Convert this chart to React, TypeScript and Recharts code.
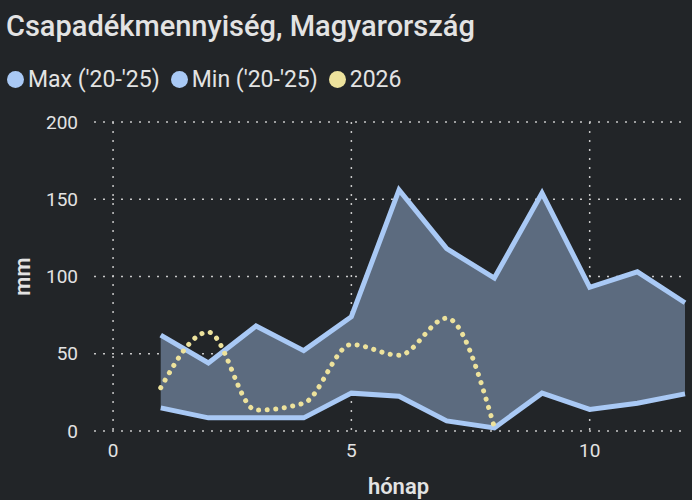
import { Area, CartesianGrid, ComposedChart, Line, XAxis, YAxis } from 'recharts';

const months = [1, 2, 3, 4, 5, 6, 7, 8, 9, 10, 11, 12];
const maxValues = [62, 44, 68, 52, 74, 156, 118, 99, 154, 93, 103, 83];
const minValues = [15, 8.5, 8.5, 8.5, 24.5, 22.5, 6.5, 2, 24.5, 14, 18, 24];
const values2026 = [28, 64, 13.5, 18, 56, 49, 73, 2.5];
const xTicks = [0, 5, 10];
const yTicks = [0, 50, 100, 150, 200];

const BG = '#222528';
const TEXT = '#e3e3e3';
const BLUE = '#a9c9f5';
const YELLOW = '#ede29c';
const FONT = 'Roboto, "Noto Sans", sans-serif';

const data = months.map((m, i) => ({
  month: m,
  max: maxValues[i],
  min: minValues[i],
  range: [minValues[i], maxValues[i]],
  y2026: i < values2026.length ? values2026[i] : null,
}));

const legend = [
  { label: "Max ('20-'25)", color: BLUE },
  { label: "Min ('20-'25)", color: BLUE },
  { label: '2026', color: YELLOW },
];

export default function App() {
  return (
    <div style={{ position: 'relative', width: 692, height: 500, background: BG, fontFamily: FONT }}>
      <style>{`body{margin:0;background:${BG}}`}</style>
      <div
        style={{
          position: 'absolute',
          left: 6,
          top: 9,
          fontSize: 29,
          fontWeight: 500,
          color: TEXT,
          whiteSpace: 'nowrap',
        }}
      >
        Csapadékmennyiség, Magyarország
      </div>
      <div style={{ position: 'absolute', left: 7, top: 66, display: 'flex', gap: 11 }}>
        {legend.map((l) => (
          <div key={l.label} style={{ display: 'flex', alignItems: 'center', color: TEXT, fontSize: 23 }}>
            <span
              style={{
                display: 'inline-block',
                width: 17,
                height: 17,
                borderRadius: '50%',
                background: l.color,
                marginRight: 4,
              }}
            />
            {l.label}
          </div>
        ))}
      </div>
      <ComposedChart
        width={692}
        height={500}
        data={data}
        margin={{ top: 122, right: 7, left: 0, bottom: 0 }}
        style={{ position: 'absolute', left: 0, top: 0 }}
      >
        <CartesianGrid stroke="#c8c8c8" strokeDasharray="2 7" strokeWidth={1.5} verticalValues={xTicks} />
        <XAxis
          type="number"
          dataKey="month"
          domain={[-0.4, 12]}
          ticks={xTicks}
          axisLine={false}
          tickLine={false}
          tickSize={0}
          tickMargin={13}
          height={69}
          tick={{ fill: TEXT, fontSize: 19, fontFamily: FONT }}
          label={{
            value: 'hónap',
            position: 'center',
            dx: 9,
            dy: 21,
            fill: TEXT,
            fontSize: 22,
            fontWeight: 600,
            fontFamily: FONT,
          }}
        />
        <YAxis
          type="number"
          domain={[0, 200]}
          ticks={yTicks}
          axisLine={false}
          tickLine={false}
          tickSize={0}
          tickMargin={16}
          width={94}
          tick={{ fill: TEXT, fontSize: 19, fontFamily: FONT }}
          label={{
            value: 'mm',
            angle: -90,
            position: 'center',
            dx: -25,
            fill: TEXT,
            fontSize: 22,
            fontWeight: 600,
            fontFamily: FONT,
          }}
        />
        <Area
          dataKey="range"
          fill="#5c6b7f"
          fillOpacity={1}
          stroke="none"
          isAnimationActive={false}
          activeDot={false}
        />
        <Line dataKey="max" stroke={BLUE} strokeWidth={5} dot={false} isAnimationActive={false} />
        <Line dataKey="min" stroke={BLUE} strokeWidth={5} dot={false} isAnimationActive={false} />
        <Line
          dataKey="y2026"
          type="monotone"
          stroke={YELLOW}
          strokeWidth={5}
          strokeDasharray="0.1 8.5"
          strokeLinecap="round"
          dot={false}
          connectNulls={false}
          isAnimationActive={false}
        />
      </ComposedChart>
    </div>
  );
}
